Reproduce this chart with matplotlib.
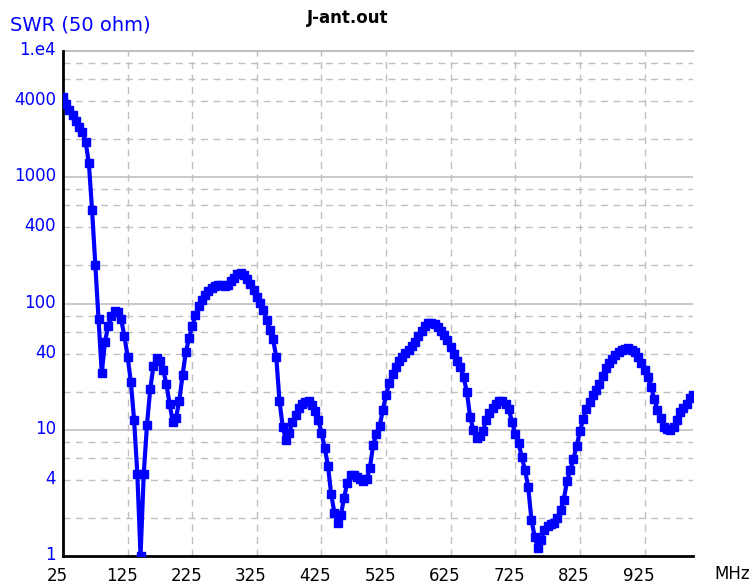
import numpy as np
import matplotlib
matplotlib.use("Agg")
import matplotlib.pyplot as plt
import matplotlib.transforms as mtransforms

# sweep 25..1000 MHz, 5 MHz step
freq_start, freq_stop, freq_step = 25, 1000, 5
freq = np.arange(freq_start, freq_stop + 1, freq_step)

# SWR, one value per sweep point
swr = [
    4300, 3800, 3400, 3100, 2800, 2500, 2300, 1900, 1300, 550,     # 25-70
    200, 75, 28, 50, 66, 80, 88, 86, 75, 55,                       # 75-120
    38, 24, 12, 4.5, 1.0, 4.5, 11, 21, 32, 37,                     # 125-170
    35, 30, 23, 16, 11.5, 12.5, 17, 27, 41, 53,                    # 175-220
    66, 81, 95, 106, 117, 125, 132, 137, 140, 139,                 # 225-270
    137, 141, 150, 160, 170, 175, 167, 155, 143, 127,              # 275-320
    113, 101, 89, 74, 62, 52, 38, 17, 10.6, 8.3,                   # 325-370
    9.5, 11.5, 13.2, 14.8, 16, 16.6, 16.8, 15.8, 14, 12,           # 375-420
    9.5, 7.2, 5.2, 3.1, 2.2, 1.83, 2.1, 2.9, 3.8, 4.4,             # 425-470
    4.35, 4.2, 4.05, 3.9, 4.1, 5.0, 7.6, 9.2, 10.7, 14.3,          # 475-520
    19, 23.5, 27.5, 31.6, 35, 38, 40.5, 43, 46, 50,                # 525-570
    55, 61, 66, 70, 70.5, 68.5, 65, 61, 56, 51,                    # 575-620
    45, 40, 35, 31.6, 26, 20, 12.7, 10, 8.6, 9,                    # 625-670
    9.8, 12, 13.5, 15, 16, 16.8, 16.9, 16, 14.5, 11.5,             # 675-720
    9.2, 7.8, 6.1, 4.8, 3.5, 1.93, 1.42, 1.15, 1.35, 1.6,          # 725-770
    1.72, 1.78, 1.83, 2.0, 2.3, 2.8, 3.9, 4.8, 5.9, 7.5,           # 775-820
    9.7, 12.2, 14.7, 16.7, 18.7, 20.7, 23, 26.5, 31, 34,           # 825-870
    36.5, 39, 41.5, 43, 44, 44.3, 43, 41.5, 38, 34,                # 875-920
    30, 26.3, 22, 17.5, 14.4, 12.3, 10.6, 10.1, 10, 10.5,          # 925-970
    12, 13.8, 15, 16, 17.8, 19,                                    # 975-1000
]

xtick_vals = [25, 125, 225, 325, 425, 525, 625, 725, 825, 925]
ytick_vals = [1, 4, 10, 40, 100, 400, 1000, 4000, 10000]
ytick_labels = ["1", "4", "10", "40", "100", "400", "1000", "4000", "1.e4"]

blue = "#0000ff"
grey = "#c0c0c0"

fig = plt.figure(figsize=(7.56, 5.85), dpi=100)
ax = fig.add_axes([63 / 756, 1 - 556 / 585, 630 / 756, 505 / 585])

ax.set_yscale("log")
ax.set_xlim(25, 1000)
ax.set_ylim(1, 10000)

# grid: solid at decades, dashed at 2,4,6,8
for dec in [1, 10, 100, 1000]:
    for m in [2, 4, 6, 8]:
        ax.axhline(dec * m, color=grey, lw=1, ls=(0, (5, 4)), zorder=1)
    if dec > 1:
        ax.axhline(dec, color=grey, lw=1.2, zorder=1)
ax.axhline(10000, color=grey, lw=1.5, zorder=1, clip_on=False)
for xv in xtick_vals[1:]:
    ax.axvline(xv, color=grey, lw=1, ls=(0, (5, 4)), zorder=1)

ax.plot(freq, swr, color=blue, lw=3, marker="s", ms=6, mec=blue, mfc=blue, zorder=3)

for s in ["top", "right"]:
    ax.spines[s].set_visible(False)
ax.spines["left"].set_linewidth(2)
ax.spines["bottom"].set_linewidth(2)

ax.set_xticks(xtick_vals)
ax.set_xticklabels([str(v) for v in xtick_vals], fontsize=12)
ax.set_yticks(ytick_vals)
ax.set_yticklabels(ytick_labels, fontsize=12, color=blue)
ax.yaxis.set_minor_locator(matplotlib.ticker.NullLocator())
ax.tick_params(axis="both", length=0)
ax.tick_params(axis="x", pad=8)
ax.tick_params(axis="y", pad=5)

# x labels sit a bit left of their grid line, y labels a bit above
xoff = mtransforms.ScaledTranslation(-6 / 100, 0, fig.dpi_scale_trans)
for lab in ax.get_xticklabels():
    lab.set_transform(lab.get_transform() + xoff)
yoff = mtransforms.ScaledTranslation(0, 3 / 100, fig.dpi_scale_trans)
for lab in ax.get_yticklabels():
    lab.set_transform(lab.get_transform() + yoff)

fig.text(10 / 756, 1 - 25 / 585, "SWR (50 ohm)", color=blue, fontsize=14,
         ha="left", va="center")
fig.text(348 / 756, 1 - 18 / 585, "J-ant.out", color="black", fontsize=12,
         fontweight="bold", ha="center", va="center")
fig.text(732 / 756, 1 - 574 / 585, "MHz", color="black", fontsize=12,
         ha="center", va="center")

fig.savefig("out.png", dpi=100)
